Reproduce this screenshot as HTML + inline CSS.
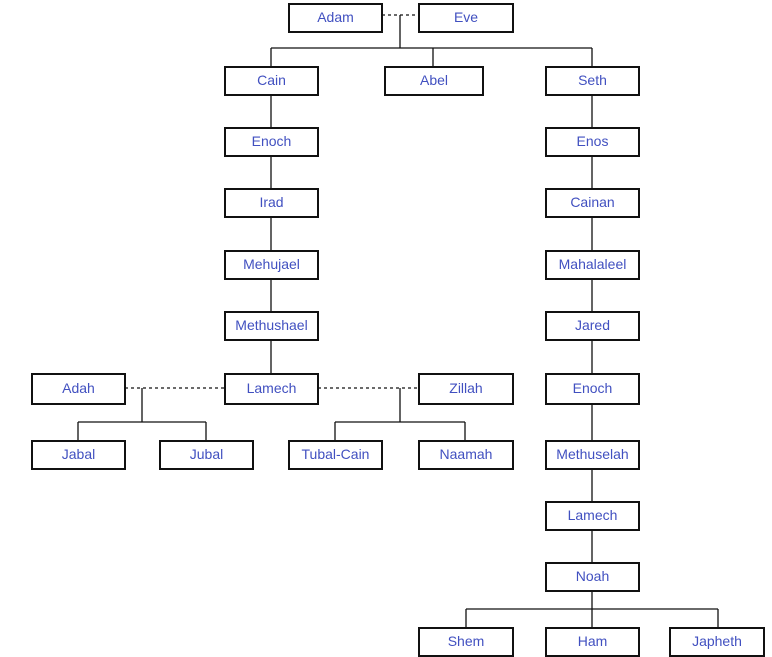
<!DOCTYPE html>
<html><head><style>
body{margin:0;width:772px;height:654px;background:#fff;overflow:hidden;position:relative;font-family:"Liberation Sans",sans-serif}
.b{position:absolute;box-sizing:border-box;width:95px;height:30px;border:2px solid #111;color:#4150c0;font-size:14px;text-align:center;line-height:24px;background:#fff}
svg{position:absolute;left:0;top:0}
</style></head><body>
<svg width="772" height="654" stroke="#111" stroke-width="1.3" fill="none">
<path d="M382 15H418" stroke-dasharray="3,3"/>
<path d="M400 15V48M271 48H592M271 48V66M433 48V66M592 48V66"/>
<path d="M271 95V373M592 95V627"/>
<path d="M125 388H224M318 388H418" stroke-dasharray="3,3"/>
<path d="M142 388V422M78 422H206M78 422V440M206 422V440"/>
<path d="M400 388V422M335 422H465M335 422V440M465 422V440"/>
<path d="M466 609H718M466 609V627M718 609V627"/>
</svg>
<div class="b" style="left:288px;top:3px">Adam</div>
<div class="b" style="left:418px;top:3px;width:96px">Eve</div>
<div class="b" style="left:224px;top:66px">Cain</div>
<div class="b" style="left:384px;top:66px;width:100px">Abel</div>
<div class="b" style="left:545px;top:66px">Seth</div>
<div class="b" style="left:224px;top:127px">Enoch</div>
<div class="b" style="left:545px;top:127px">Enos</div>
<div class="b" style="left:224px;top:188px">Irad</div>
<div class="b" style="left:545px;top:188px">Cainan</div>
<div class="b" style="left:224px;top:250px">Mehujael</div>
<div class="b" style="left:545px;top:250px">Mahalaleel</div>
<div class="b" style="left:224px;top:311px">Methushael</div>
<div class="b" style="left:545px;top:311px">Jared</div>
<div class="b" style="left:31px;top:373px;height:32px;line-height:26px">Adah</div>
<div class="b" style="left:224px;top:373px;height:32px;line-height:26px">Lamech</div>
<div class="b" style="left:418px;top:373px;width:96px;height:32px;line-height:26px">Zillah</div>
<div class="b" style="left:545px;top:373px;height:32px;line-height:26px">Enoch</div>
<div class="b" style="left:31px;top:440px">Jabal</div>
<div class="b" style="left:159px;top:440px">Jubal</div>
<div class="b" style="left:288px;top:440px">Tubal-Cain</div>
<div class="b" style="left:418px;top:440px;width:96px">Naamah</div>
<div class="b" style="left:545px;top:440px">Methuselah</div>
<div class="b" style="left:545px;top:501px">Lamech</div>
<div class="b" style="left:545px;top:562px">Noah</div>
<div class="b" style="left:418px;top:627px;width:96px">Shem</div>
<div class="b" style="left:545px;top:627px">Ham</div>
<div class="b" style="left:669px;top:627px;width:96px">Japheth</div>
</body></html>
